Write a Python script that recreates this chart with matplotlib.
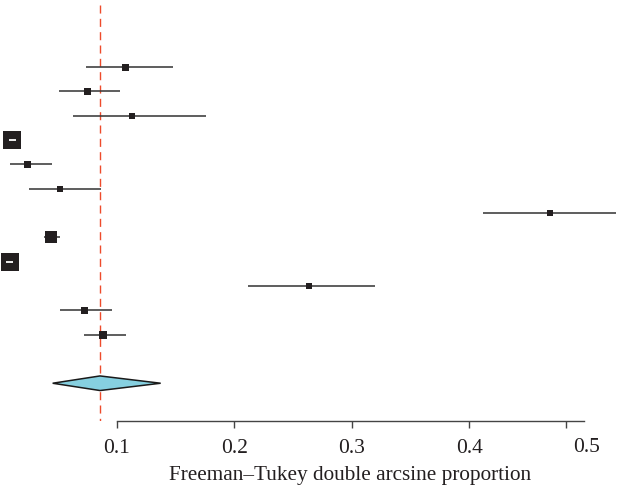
import matplotlib
matplotlib.use("Agg")
import matplotlib.pyplot as plt
from matplotlib.patches import Polygon, Rectangle

plt.rcParams["font.family"] = ["Liberation Serif", "DejaVu Serif"]

# study rows (row index from top), estimate and 95% CI
rows = [0, 1, 2, 4, 5, 6, 7, 9, 10, 11]
est = [0.107, 0.075, 0.113, 0.024, 0.052, 0.469, 0.044, 0.264, 0.072, 0.088]
lo = [0.074, 0.051, 0.063, 0.009, 0.025, 0.412, 0.038, 0.212, 0.052, 0.072]
hi = [0.148, 0.103, 0.176, 0.045, 0.087, 0.525, 0.052, 0.320, 0.096, 0.108]
box = [7, 7, 6, 7, 6, 6, 12, 5.5, 7, 8]  # marker size in px

# collapsed subgroup rows
group_rows = [3, 8]

# pooled estimate
pooled_row = 13
pooled = 0.0858
pooled_lo = 0.0455
pooled_hi = 0.1374
ref_line = 0.0862

xticks = [0.1, 0.2, 0.3, 0.4]
xlabel = "Freeman\u2013Tukey double arcsine proportion"

fig = plt.figure(figsize=(6.17, 4.87), dpi=100)
ax = fig.add_axes([0, 1 - 420.7 / 487, 1, 420.7 / 487])
ax.set_xlim(0.1 - 116.7 / 1175.3, 0.1 + 500.3 / 1175.3)
ax.set_ylim(14.54, -2.754)

for r, e, l, h, s in zip(rows, est, lo, hi, box):
    ax.plot([l, h], [r, r], color="#3a3a3a", lw=1.15, solid_capstyle="butt", zorder=2)
    ax.plot([e], [r], marker="s", ms=s * 0.72, color="#231f20", mew=0, zorder=3)

# black boxes with a dash at the left edge
px = 1 / 1175.3
for r, cx in zip(group_rows, [12.0, 9.5]):
    ax.add_patch(Rectangle((ax.get_xlim()[0] + (cx - 9) * px, r - 9 / 24.33), 18 * px, 18 / 24.33,
                           facecolor="#231f20", edgecolor="none", zorder=3))
    ax.plot([ax.get_xlim()[0] + (cx - 3.5) * px, ax.get_xlim()[0] + (cx + 3.5) * px], [r, r],
            color="white", lw=1.3, solid_capstyle="butt", zorder=4)

dh = 7.3 / 24.33
ax.add_patch(Polygon([[pooled_lo, pooled_row], [pooled, pooled_row - dh],
                      [pooled_hi, pooled_row], [pooled, pooled_row + dh]],
                     closed=True, facecolor="#86d0e0", edgecolor="#1a1a1a", lw=1.1, zorder=3))

ref, = ax.plot([ref_line, ref_line], [-2.55, 14.54], color="#ee4b2b", lw=1.0, zorder=1)
ref.set_dashes([5.8, 3.8])

for s in ["top", "right", "left"]:
    ax.spines[s].set_visible(False)
ax.spines["bottom"].set_bounds(0.1, 0.498)
ax.spines["bottom"].set_color("#444444")
ax.spines["bottom"].set_linewidth(1.0)
ax.set_yticks([])
ax.set_xticks(xticks + [0.482])
ax.set_xticklabels(["0.1", "0.2", "0.3", "0.4", ""])
ax.set_xticks([0.5], minor=True)
ax.set_xticklabels(["0.5"], minor=True)
ax.tick_params(axis="x", which="major", length=5, width=1.0, color="#444444", pad=8.5,
               labelsize=15.5, labelcolor="#231f20")
ax.tick_params(axis="x", which="minor", length=0, pad=12.1, labelsize=15.5, labelcolor="#231f20")
ax.set_xlabel(xlabel, fontsize=15.3, color="#231f20")
ax.xaxis.set_label_coords(350.5 / 617, -0.107)

fig.savefig("out.png", dpi=100)
